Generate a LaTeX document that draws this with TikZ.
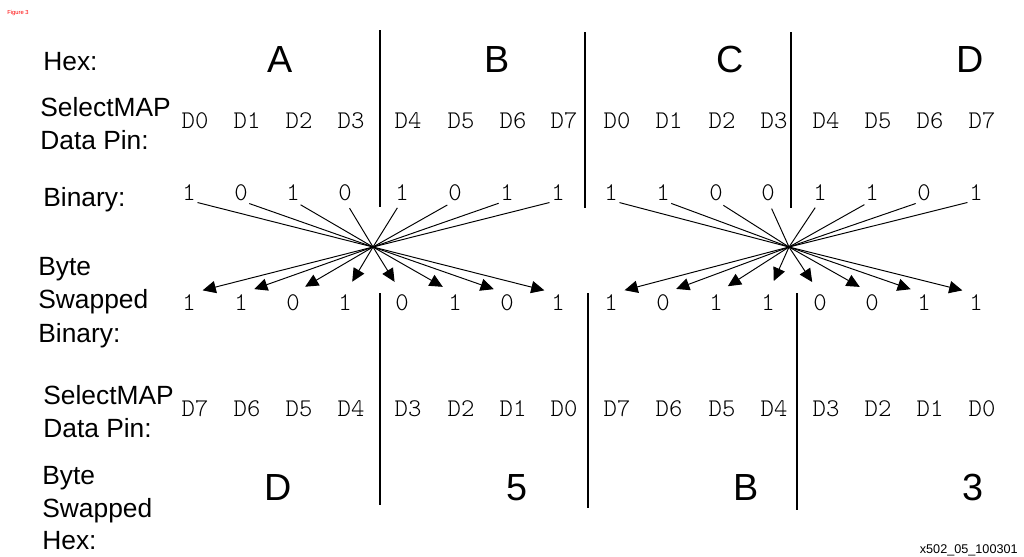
\documentclass[tikz,border=0pt]{standalone}
\usepackage{fontspec}
\setmainfont{Liberation Sans}
\newfontfamily\pinfont{Latin Modern Mono Light}
\usetikzlibrary{arrows.meta}

\begin{document}
\begin{tikzpicture}[
  lbl/.style={font=\fontsize{15}{19}\selectfont, align=left, anchor=north west, inner sep=0pt},
  hexd/.style={font=\fontsize{21.5}{26}\selectfont, anchor=base, inner sep=0pt},
  pin/.style={font=\pinfont\fontsize{14.5}{16}\selectfont, anchor=base, inner sep=0pt},
  bit/.style={font=\pinfont\fontsize{14.5}{16}\selectfont, anchor=base, inner sep=0pt},
  swap/.style={-{Triangle[length=7.5pt,width=7pt]}, line width=0.55pt, shorten <=5pt, shorten >=8pt},
  divider/.style={line width=0.8pt}
]
\begin{scope}[x=0.02cm, y=-0.02cm]
\useasboundingbox (0,0) rectangle (1024,556);

\node[font=\fontsize{3.3}{4}\selectfont, text=red, anchor=west, inner sep=0pt] (fig) at (7,13) {Figure 3};
\node[font=\fontsize{7.2}{8}\selectfont, anchor=base east, inner sep=0pt] (code) at (1018,553) {x502\_05\_100301};

\node[lbl] (lhex) at (43,52) {Hex:};
\node[lbl] (lpin) at (40,97) {SelectMAP\\Data Pin:};
\node[lbl] (lbin) at (43,187) {Binary:};
\node[lbl] (lswb) at (38,257) {Byte\\Swapped\\Binary:};
\node[lbl] (lpin2) at (43,385) {SelectMAP\\Data Pin:};
\node[lbl, font=\fontsize{15}{18.5}\selectfont] (lswh) at (42,466) {Byte\\Swapped\\Hex:};

\node[hexd] (ha) at (280,72) {A};
\node[hexd] (hb) at (497,72) {B};
\node[hexd] (hc) at (730,72) {C};
\node[hexd] (hd) at (970,72) {D};

\node[pin] (p0) at (195,128) {D0};
\node[pin] (p1) at (247,128) {D1};
\node[pin] (p2) at (299,128) {D2};
\node[pin] (p3) at (351,128) {D3};
\node[pin] (p4) at (408,128) {D4};
\node[pin] (p5) at (461,128) {D5};
\node[pin] (p6) at (513,128) {D6};
\node[pin] (p7) at (564,128) {D7};
\node[pin] (p8) at (617,128) {D0};
\node[pin] (p9) at (669,128) {D1};
\node[pin] (p10) at (722,128) {D2};
\node[pin] (p11) at (774,128) {D3};
\node[pin] (p12) at (826,128) {D4};
\node[pin] (p13) at (878,128) {D5};
\node[pin] (p14) at (930,128) {D6};
\node[pin] (p15) at (982,128) {D7};

\node[bit] (t1) at (189,200) {1};
\node[bit] (t2) at (241,200) {0};
\node[bit] (t3) at (293,200) {1};
\node[bit] (t4) at (345,200) {0};
\node[bit] (t5) at (402,200) {1};
\node[bit] (t6) at (455,200) {0};
\node[bit] (t7) at (507,200) {1};
\node[bit] (t8) at (558,200) {1};
\node[bit] (t9) at (611,200) {1};
\node[bit] (t10) at (663,200) {1};
\node[bit] (t11) at (716,200) {0};
\node[bit] (t12) at (768,200) {0};
\node[bit] (t13) at (820,200) {1};
\node[bit] (t14) at (872,200) {1};
\node[bit] (t15) at (924,200) {0};
\node[bit] (t16) at (976,200) {1};

\node[bit] (b1) at (189,310) {1};
\node[bit] (b2) at (241,310) {1};
\node[bit] (b3) at (293,310) {0};
\node[bit] (b4) at (345,310) {1};
\node[bit] (b5) at (402,310) {0};
\node[bit] (b6) at (455,310) {1};
\node[bit] (b7) at (507,310) {0};
\node[bit] (b8) at (558,310) {1};
\node[bit] (b9) at (611,310) {1};
\node[bit] (b10) at (663,310) {0};
\node[bit] (b11) at (716,310) {1};
\node[bit] (b12) at (768,310) {1};
\node[bit] (b13) at (820,310) {0};
\node[bit] (b14) at (872,310) {0};
\node[bit] (b15) at (924,310) {1};
\node[bit] (b16) at (976,310) {1};

\node[pin] (q0) at (195,416) {D7};
\node[pin] (q1) at (247,416) {D6};
\node[pin] (q2) at (299,416) {D5};
\node[pin] (q3) at (351,416) {D4};
\node[pin] (q4) at (408,416) {D3};
\node[pin] (q5) at (461,416) {D2};
\node[pin] (q6) at (513,416) {D1};
\node[pin] (q7) at (564,416) {D0};
\node[pin] (q8) at (617,416) {D7};
\node[pin] (q9) at (669,416) {D6};
\node[pin] (q10) at (722,416) {D5};
\node[pin] (q11) at (774,416) {D4};
\node[pin] (q12) at (826,416) {D3};
\node[pin] (q13) at (878,416) {D2};
\node[pin] (q14) at (930,416) {D1};
\node[pin] (q15) at (982,416) {D0};

\node[hexd] (sd) at (278,500) {D};
\node[hexd] (s5) at (517,500) {5};
\node[hexd] (sb) at (746,500) {B};
\node[hexd] (s3) at (973,500) {3};

\draw[divider] (380,30)--(380,207);
\draw[divider] (585,32)--(585,208);
\draw[divider] (791,32)--(791,208);
\draw[divider] (380,293)--(380,505);
\draw[divider] (588,293)--(588,508);
\draw[divider] (797,293)--(797,510);

\coordinate (x1) at (373,247);
\coordinate (x2) at (789,247);

\draw[swap] (t1.south)--(x1)--(b8.north);
\draw[swap] (t2.south)--(x1)--(b7.north);
\draw[swap] (t3.south)--(x1)--(b6.north);
\draw[swap] (t4.south)--(x1)--(b5.north);
\draw[swap] (t5.south)--(x1)--(b4.north);
\draw[swap] (t6.south)--(x1)--(b3.north);
\draw[swap] (t7.south)--(x1)--(b2.north);
\draw[swap] (t8.south)--(x1)--(b1.north);
\draw[swap] (t9.south)--(x2)--(b16.north);
\draw[swap] (t10.south)--(x2)--(b15.north);
\draw[swap] (t11.south)--(x2)--(b14.north);
\draw[swap] (t12.south)--(x2)--(b13.north);
\draw[swap] (t13.south)--(x2)--(b12.north);
\draw[swap] (t14.south)--(x2)--(b11.north);
\draw[swap] (t15.south)--(x2)--(b10.north);
\draw[swap] (t16.south)--(x2)--(b9.north);
\end{scope}
\end{tikzpicture}
\end{document}
